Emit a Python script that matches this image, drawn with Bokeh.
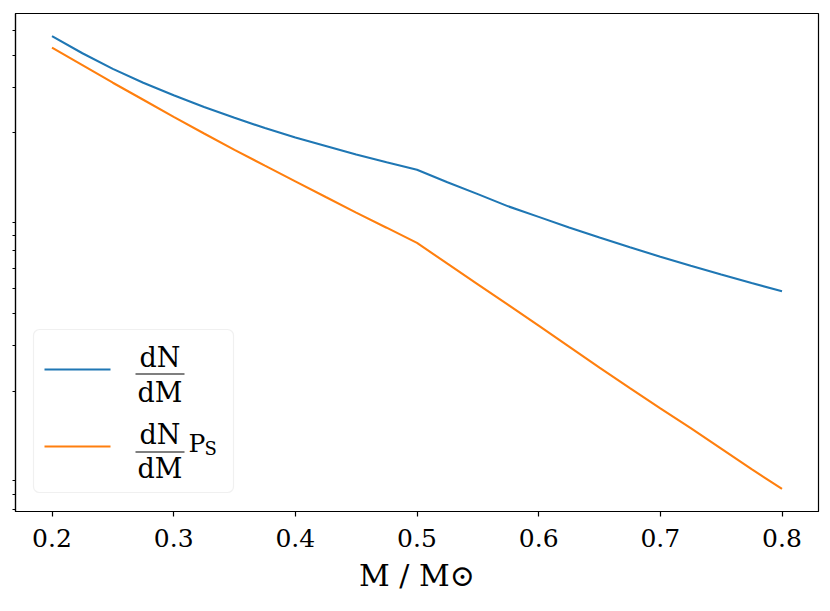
import math
from bokeh.plotting import figure
from bokeh.models import Range1d, FixedTicker, BoxAnnotation, Label, Arrow
from bokeh.embed import file_html
from bokeh.resources import INLINE

# ---- data ----
mass = [0.2, 0.225, 0.25, 0.275, 0.3, 0.325, 0.35, 0.375, 0.4, 0.425, 0.45, 0.475, 0.5,
        0.525, 0.55, 0.575, 0.6, 0.625, 0.65, 0.675, 0.7, 0.725, 0.75, 0.775, 0.8]
dn_dm = [47.4, 40.7, 35.4, 31.3, 28.0, 25.2, 22.9, 20.9, 19.2, 17.8, 16.5, 15.4, 14.4,
         12.9, 11.6, 10.4, 9.47, 8.62, 7.88, 7.22, 6.64, 6.13, 5.67, 5.25, 4.88]
dn_dm_ps = [42.8, 36.6, 31.3, 26.9, 23.1, 19.9, 17.2, 14.95, 13.0, 11.3, 9.84, 8.60, 7.51,
            6.24, 5.19, 4.32, 3.59, 2.98, 2.47, 2.06, 1.72, 1.44, 1.20, 1.00, 0.839]
x_ticks = [0.2, 0.3, 0.4, 0.5, 0.6, 0.7, 0.8]
x_tick_labels = ["0.2", "0.3", "0.4", "0.5", "0.6", "0.7", "0.8"]
y_minor_ticks = [0.7, 0.8, 0.9, 2, 3, 4, 5, 6, 7, 8, 9, 20, 30, 40, 50]
x_label = "M / M⊙"
legend_num = "dN"
legend_den = "dM"
legend_ps = ("P", "S")

BLUE = "#1f77b4"
ORANGE = "#ff7f0e"
FONT = "DejaVu Serif"

# ranges with 5% margins (matplotlib style)
xmin, xmax = min(mass), max(mass)
xpad = 0.05 * (xmax - xmin)
allv = dn_dm + dn_dm_ps
lmin, lmax = math.log10(min(allv)), math.log10(max(allv))
lpad = 0.05 * (lmax - lmin)

p = figure(width=830, height=611, output_backend="svg", toolbar_location=None,
           y_axis_type="log",
           x_range=Range1d(xmin - xpad, xmax + xpad),
           y_range=Range1d(10 ** (lmin - lpad), 10 ** (lmax + lpad)),
           min_border_left=15, min_border_right=12, min_border_top=13, min_border_bottom=100)
p.background_fill_color = "white"
p.border_fill_color = "white"
p.outline_line_color = "black"
p.outline_line_width = 1.2
p.xgrid.visible = False
p.ygrid.visible = False

p.line(mass, dn_dm, line_color=BLUE, line_width=2.1)
p.line(mass, dn_dm_ps, line_color=ORANGE, line_width=2.1)

xa = p.xaxis[0]
xa.ticker = FixedTicker(ticks=x_ticks, minor_ticks=[])
xa.major_label_overrides = {t: l for t, l in zip(x_ticks, x_tick_labels)}
xa.major_tick_out = 5
xa.major_tick_in = 0
xa.minor_tick_out = 0
xa.minor_tick_in = 0
xa.major_tick_line_width = 1.2
xa.axis_line_width = 1.2
xa.major_label_text_font = FONT
xa.major_label_text_font_size = "25px"
xa.major_label_text_color = "black"
xa.major_label_standoff = 12
xa.axis_label = x_label
xa.axis_label_text_font = FONT
xa.axis_label_text_font_style = "normal"
xa.axis_label_text_font_size = "30px"
xa.axis_label_text_color = "black"
xa.axis_label_standoff = 8

ya = p.yaxis[0]
ya.ticker = FixedTicker(ticks=[], minor_ticks=y_minor_ticks)
ya.major_label_text_font_size = "0px"
ya.major_tick_out = 0
ya.major_tick_in = 0
ya.minor_tick_out = 3
ya.minor_tick_in = 0
ya.minor_tick_line_width = 1.0
ya.axis_line_width = 1.2

# ---- legend drawn with screen-unit annotations (frame relative) ----
box = BoxAnnotation(left=18, right=218, bottom=19, top=182,
                    left_units="screen", right_units="screen",
                    bottom_units="screen", top_units="screen",
                    fill_color="white", fill_alpha=0.8,
                    line_color="#cccccc", line_width=1.2, border_radius=6,
                    editable=False)
p.add_layout(box)

for y, col in [(142, BLUE), (65, ORANGE)]:
    p.add_layout(Arrow(end=None, x_start=29, y_start=y, x_end=95, y_end=y,
                       start_units="screen", end_units="screen",
                       line_color=col, line_width=2.1))

for bar_y, num_y, den_y in [(137.5, 154.5, 119.5), (59.5, 77, 43)]:
    p.add_layout(Arrow(end=None, x_start=120, y_start=bar_y, x_end=169, y_end=bar_y,
                       start_units="screen", end_units="screen",
                       line_color="black", line_width=1.2))
    p.add_layout(Label(x=144.5, y=num_y, x_units="screen", y_units="screen",
                       text=legend_num, text_align="center", text_baseline="alphabetic",
                       text_font=FONT, text_font_size="27px", text_color="black"))
    p.add_layout(Label(x=144.5, y=den_y, x_units="screen", y_units="screen",
                       text=legend_den, text_align="center", text_baseline="alphabetic",
                       text_font=FONT, text_font_size="27px", text_color="black"))

p.add_layout(Label(x=173, y=68.5, x_units="screen", y_units="screen",
                   text=legend_ps[0], text_align="left", text_baseline="alphabetic",
                   text_font=FONT, text_font_size="25px", text_color="black"))
p.add_layout(Label(x=189, y=63, x_units="screen", y_units="screen",
                   text=legend_ps[1], text_align="left", text_baseline="alphabetic",
                   text_font=FONT, text_font_size="18px", text_color="black"))

open("out.html", "w").write(file_html(p, INLINE))
